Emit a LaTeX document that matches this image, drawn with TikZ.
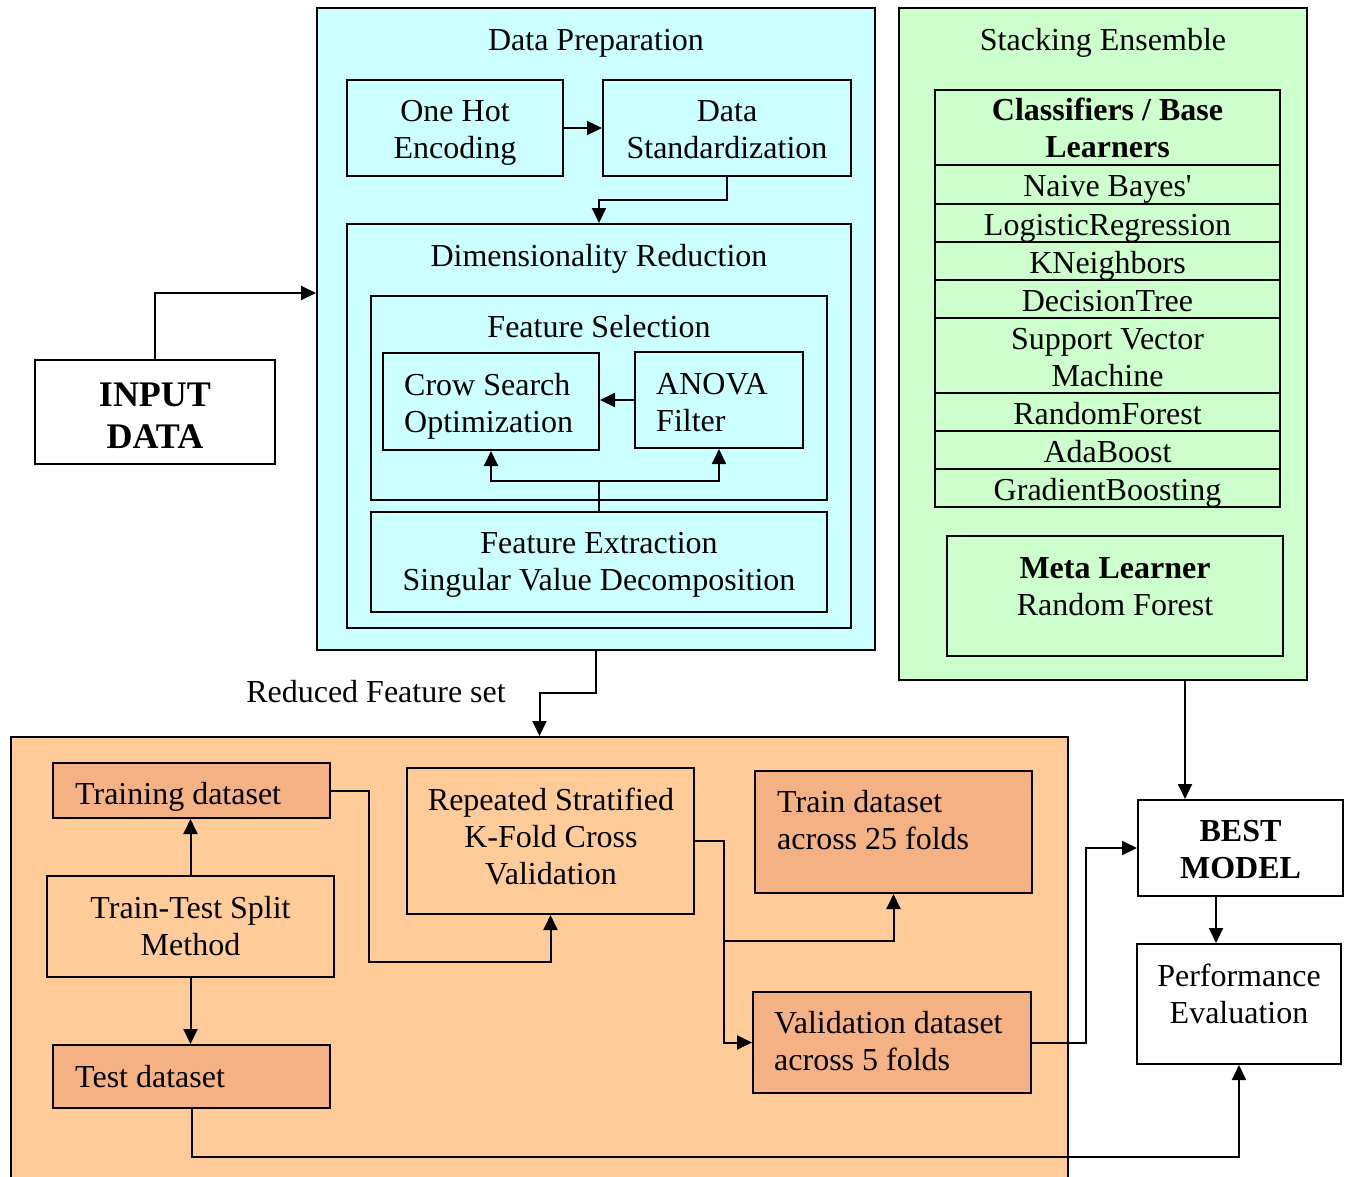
\documentclass[tikz,border=0pt]{standalone}
\usepackage{fontspec}
\setmainfont{Liberation Serif}
\usetikzlibrary{arrows.meta}
\definecolor{cyanbg}{HTML}{CCFFFF}
\definecolor{greenbg}{HTML}{CCFFCC}
\definecolor{orangebg}{HTML}{FFCC99}
\definecolor{darkorange}{HTML}{F4B183}
\newcommand\mainfs{\fontsize{32}{37}\selectfont}
\newcommand\bigfs{\fontsize{36}{42}\selectfont}
\tikzset{
  box/.style={draw, line width=2pt, inner sep=0pt, font=\mainfs, align=center},
  rowbox/.style={box, fill=greenbg, minimum width=345pt, text height=24pt, text depth=0pt},
  lbl/.style={inner sep=0pt, font=\mainfs},
  arr/.style={line width=2pt, -{Triangle[length=15pt,width=14pt]}},
  ln/.style={line width=2pt},
}
\begin{document}
\begin{tikzpicture}[x=1pt,y=-1pt]
\useasboundingbox (0,0) rectangle (1349,1176);

% ---------- Data preparation ----------
\node[box, fill=cyanbg, minimum width=558pt, minimum height=642pt] (dp) at (596,329) {};
\node[lbl] (dpt) at (596,43) {Data Preparation};
\node[box, fill=cyanbg, minimum width=216pt, minimum height=96pt] (ohe) at (455,128) {};
\node[lbl, align=center] (ohet) at (455,133) {One Hot\\Encoding};
\node[box, fill=cyanbg, minimum width=248pt, minimum height=96pt] (ds) at (727,128) {};
\node[lbl, align=center] (dst) at (727,130) {Data\\Standardization};
\node[box, fill=cyanbg, minimum width=504pt, minimum height=404pt] (dr) at (599,426) {};
\node[lbl] (drt) at (599,259) {Dimensionality Reduction};
\node[box, fill=cyanbg, minimum width=456pt, minimum height=204pt] (fs) at (599,398) {};
\node[lbl] (fst) at (599,327) {Feature Selection};
\node[box, fill=cyanbg, minimum width=216pt, minimum height=97pt] (crow) at (491,401.5) {};
\node[lbl, anchor=west, align=left] (crowt) at (404,406) {Crow Search\\Optimization};
\node[box, fill=cyanbg, minimum width=168pt, minimum height=96pt] (anova) at (719,400) {};
\node[lbl, anchor=west, align=left] (anovat) at (656,403) {ANOVA\\Filter};
\node[box, fill=cyanbg, minimum width=456pt, minimum height=100pt] (fe) at (599,562) {};
\node[lbl, align=center] (fet) at (599,565) {Feature Extraction\\Singular Value Decomposition};

% ---------- Input ----------
\node[box, fill=white, minimum width=240pt, minimum height=104pt] (input) at (155,412) {};
\node[lbl, align=center, font=\bigfs\bfseries] (inputt) at (155,416) {INPUT\\DATA};

% ---------- Stacking ensemble ----------
\node[box, fill=greenbg, minimum width=408pt, minimum height=672pt] (se) at (1103,344) {};
\node[lbl] (set) at (1103,43) {Stacking Ensemble};
\node[box, fill=greenbg, minimum width=345pt, minimum height=75pt, font=\mainfs\bfseries] (r0) at (1107.5,127.5) {Classifiers / Base\\Learners};
\node[rowbox, minimum height=39pt] (r1) at (1107.5,184.5) {Naive Bayes\textquotesingle};
\node[rowbox, minimum height=38pt] (r2) at (1107.5,223) {LogisticRegression};
\node[rowbox, minimum height=38pt] (r3) at (1107.5,261) {KNeighbors};
\node[rowbox, minimum height=38pt] (r4) at (1107.5,299) {DecisionTree};
\node[box, fill=greenbg, minimum width=345pt, minimum height=75pt] (r5) at (1107.5,355.5) {};
\node[lbl, align=center] (r5t) at (1107.5,357.5) {Support Vector\\Machine};
\node[rowbox, minimum height=38pt] (r6) at (1107.5,412) {RandomForest};
\node[rowbox, minimum height=38pt] (r7) at (1107.5,450) {AdaBoost};
\node[rowbox, minimum height=38pt] (r8) at (1107.5,488) {GradientBoosting};
\node[box, fill=greenbg, minimum width=336pt, minimum height=120pt] (ml) at (1115,596) {};
\node[lbl, align=center] (mlt) at (1115,587) {\textbf{Meta Learner}\\Random Forest};

% ---------- Bottom (orange) ----------
\node[box, fill=orangebg, minimum width=1057pt, minimum height=463pt] (ob) at (539.5,968.5) {};
\node[box, fill=darkorange, minimum width=277pt, minimum height=55pt] (train) at (191.5,790.5) {};
\node[lbl, anchor=west] (traint) at (75,797) {Training dataset};
\node[box, fill=orangebg, minimum width=287pt, minimum height=101pt] (tts) at (190.5,926.5) {Train-Test Split\\Method};
\node[box, fill=darkorange, minimum width=277pt, minimum height=63pt] (test) at (191.5,1076.5) {};
\node[lbl, anchor=west] (testt) at (75,1077) {Test dataset};
\node[box, fill=orangebg, minimum width=287pt, minimum height=146pt] (rskf) at (550.5,841) {};
\node[lbl, align=center] (rskft) at (551,836) {Repeated Stratified\\K-Fold Cross\\Validation};
\node[box, fill=darkorange, minimum width=277pt, minimum height=122pt] (t25) at (893.5,832) {};
\node[lbl, anchor=west, align=left] (t25t) at (777,820) {Train dataset\\across 25 folds};
\node[box, fill=darkorange, minimum width=278pt, minimum height=101pt] (val) at (892,1042.5) {};
\node[lbl, anchor=west, align=left] (valt) at (774,1041) {Validation dataset\\across 5 folds};

% ---------- Right column ----------
\node[box, fill=white, minimum width=205pt, minimum height=96pt] (bm) at (1240.5,848) {};
\node[lbl, align=center, font=\mainfs\bfseries] (bmt) at (1240.5,850) {BEST\\MODEL};
\node[box, fill=white, minimum width=204pt, minimum height=120pt] (pe) at (1239,1004) {};
\node[lbl, align=center] (pet) at (1239,994) {Performance\\Evaluation};

\node[lbl] (rfs) at (376,692) {Reduced Feature set};

% ---------- Connectors ----------
\draw[arr] (input.north) |- (dp.west |- 0,293);
\draw[arr] (ohe.east) -- (ds.west);
\draw[arr] (ds.south) -- (ds.south |- 0,200) -| (dr.north);
\draw[arr] (anova.west) -- (crow.east |- anova.west);
\draw[ln] (fe.north) -- (fe.north |- 0,481) coordinate (j1);
\draw[arr] (j1) -| (crow.south);
\draw[arr] (j1) -| (anova.south);
\draw[arr] (dp.south) -- (dp.south |- 0,693) -| (ob.north);
\draw[arr] (se.south -| 1185,0) -- (bm.north -| 1185,0);
\draw[arr] (bm.south -| 1216,0) -- (pe.north -| 1216,0);
\draw[arr] (tts.north) -- (train.south -| tts.north);
\draw[arr] (tts.south) -- (test.north -| tts.south);
\draw[arr] (train.east) -| (369,962) -| (rskf.south);
\draw[ln] (rskf.east) -| (724,941) coordinate (j2);
\draw[arr] (j2) -| (t25.south);
\draw[arr] (j2) |- (val.west);
\draw[arr] (val.east) -- ++(54,0) |- (bm.west);
\draw[arr] (test.south) -- (test.south |- 0,1157) -| (pe.south);
\end{tikzpicture}
\end{document}
